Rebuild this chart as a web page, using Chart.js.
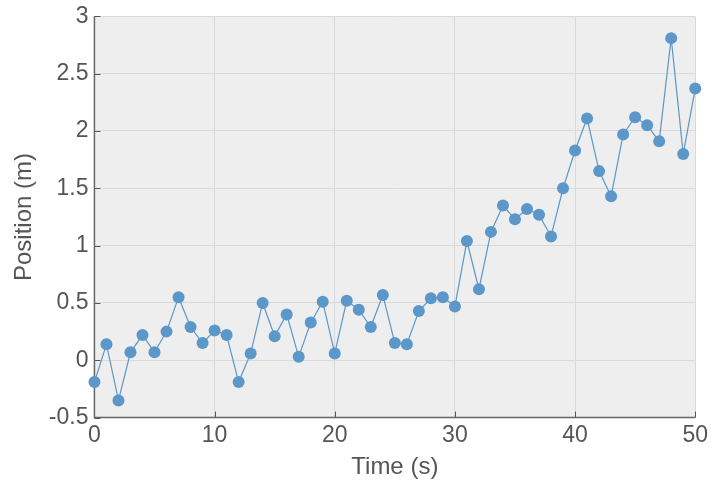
<!DOCTYPE html>
<html><head><meta charset="UTF-8">
<title>Position vs Time</title>
<script src="https://cdn.jsdelivr.net/npm/chart.js"></script>
<style>
html,body{margin:0;padding:0;background:#fff}
#wrap{width:712px;height:485px}
</style>
</head><body>
<div id="wrap"><canvas id="c"></canvas></div>
<script>
// data
const times = [0,1,2,3,4,5,6,7,8,9,10,11,12,13,14,15,16,17,18,19,20,21,22,23,24,25,
  26,27,28,29,30,31,32,33,34,35,36,37,38,39,40,41,42,43,44,45,46,47,48,49,50];
const positions = [-0.19,0.14,-0.35,0.07,0.22,0.07,0.25,0.55,0.29,0.15,0.26,0.22,-0.19,0.06,
  0.50,0.21,0.40,0.03,0.33,0.51,0.06,0.52,0.44,0.29,0.57,0.15,0.14,0.43,0.54,0.55,0.47,
  1.04,0.62,1.12,1.35,1.23,1.32,1.27,1.08,1.50,1.83,2.11,1.65,1.43,1.97,2.12,2.05,1.91,
  2.81,1.80,2.37];
const xTicks = [0,10,20,30,40,50];
const yTicks = [-0.5,0,0.5,1,1.5,2,2.5,3];

const fontFam = '"Liberation Sans", Arial, sans-serif';

// grey plot background, inward tick marks, axis lines on left/bottom
const bgPlugin = {
  id: 'bg',
  beforeDraw(chart) {
    const {ctx, chartArea: a} = chart;
    ctx.save();
    ctx.fillStyle = '#eeeeee';
    ctx.fillRect(a.left, a.top, a.right - a.left, a.bottom - a.top);
    ctx.restore();
  },
  beforeDatasetsDraw(chart) {
    const {ctx, chartArea: a, scales} = chart;
    ctx.save();
    ctx.strokeStyle = '#555';
    ctx.lineWidth = 1;
    ctx.beginPath();
    xTicks.forEach(v => {
      const x = Math.round(scales.x.getPixelForValue(v)) + 0.5;
      ctx.moveTo(x, a.bottom); ctx.lineTo(x, a.bottom - 6);
    });
    yTicks.forEach(v => {
      const y = Math.round(scales.y.getPixelForValue(v)) + 0.5;
      ctx.moveTo(a.left, y); ctx.lineTo(a.left + 6, y);
    });
    ctx.stroke();
    ctx.strokeStyle = '#666';
    ctx.lineWidth = 1.5;
    ctx.beginPath();
    ctx.moveTo(a.left, a.top); ctx.lineTo(a.left, a.bottom); ctx.lineTo(a.right, a.bottom);
    ctx.stroke();
    ctx.restore();
  }
};

new Chart(document.getElementById('c'), {
  type: 'scatter',
  data: {
    datasets: [{
      data: times.map((t, i) => ({x: t, y: positions[i]})),
      showLine: true,
      borderColor: '#5b97c9',
      borderWidth: 1.2,
      backgroundColor: '#5b97c9',
      pointBackgroundColor: '#5b97c9',
      pointBorderWidth: 0,
      pointRadius: 6,
      clip: false
    }]
  },
  options: {
    responsive: true,
    maintainAspectRatio: false,
    animation: false,
    layout: {padding: {top: 4, right: 11, left: 10, bottom: 3}},
    plugins: {legend: {display: false}, tooltip: {enabled: false}},
    scales: {
      x: {
        type: 'linear', min: 0, max: 50,
        afterBuildTicks: s => { s.ticks = xTicks.map(v => ({value: v})); },
        grid: {color: '#d9d9d9', lineWidth: 1, drawTicks: false},
        border: {display: false},
        ticks: {color: '#555', font: {family: fontFam, size: 23}, padding: 4,
          callback: v => String(v)},
        title: {display: true, text: 'Time (s)', color: '#555',
          font: {family: fontFam, size: 24}, padding: {top: 0, bottom: 0}}
      },
      y: {
        type: 'linear', min: -0.5, max: 3,
        afterBuildTicks: s => { s.ticks = yTicks.map(v => ({value: v})); },
        grid: {color: '#d9d9d9', lineWidth: 1, drawTicks: false},
        border: {display: false},
        ticks: {color: '#555', font: {family: fontFam, size: 23, lineHeight: 0.9}, padding: 6,
          callback: v => String(v)},
        title: {display: true, text: 'Position (m)', color: '#555',
          font: {family: fontFam, size: 24}, padding: {top: 0, bottom: 4}}
      }
    }
  },
  plugins: [bgPlugin]
});
</script>
</body></html>
